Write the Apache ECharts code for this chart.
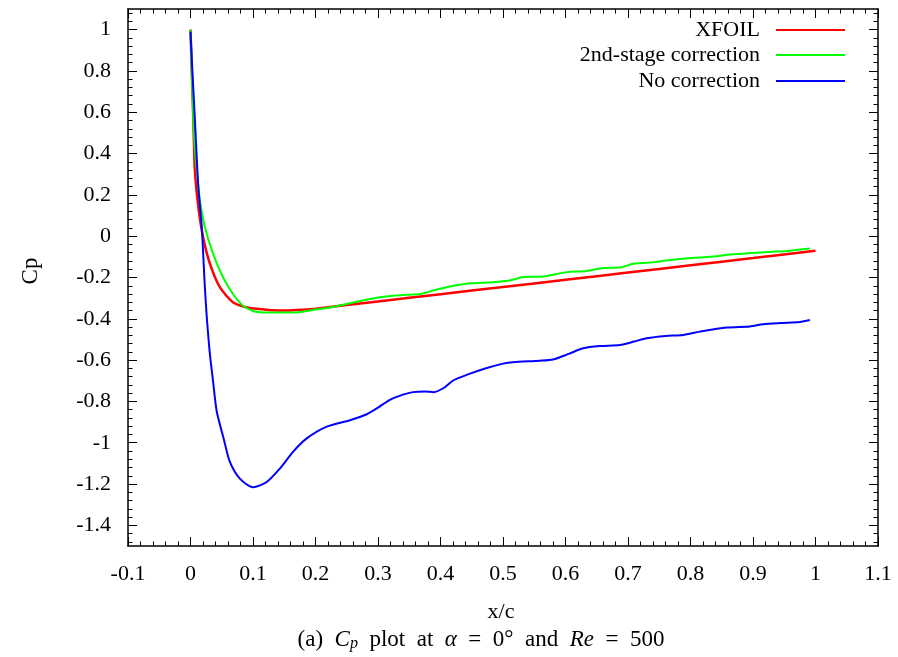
<!DOCTYPE html>
<html>
<head>
<meta charset="utf-8">
<script src="https://cdn.jsdelivr.net/npm/echarts@6/dist/echarts.min.js"></script>
<style>html,body{margin:0;padding:0;background:#fff;}#c{width:898px;height:657px;}</style>
</head>
<body>
<div id="c"></div>
<script>
// ---- data ----
var xfoilX = [0, 0.002, 0.0045, 0.007, 0.0125, 0.02, 0.031, 0.047, 0.068, 0.09, 0.111, 0.13, 0.154, 0.18, 0.2, 0.3, 0.4, 0.5, 0.6, 0.7, 0.8, 0.9, 1.0];
var xfoilY = [1.0, 0.8, 0.566, 0.322, 0.143, -0.003, -0.133, -0.247, -0.32, -0.345, -0.353, -0.358, -0.36, -0.356, -0.351, -0.316, -0.281, -0.246, -0.211, -0.176, -0.141, -0.106, -0.07];

var secondX = [0, 0.002, 0.0045, 0.007, 0.01, 0.015, 0.023, 0.036, 0.052, 0.068, 0.084, 0.1, 0.117, 0.14, 0.17, 0.2, 0.223, 0.255, 0.287, 0.32, 0.35, 0.367, 0.39, 0.415, 0.447, 0.484, 0.51, 0.532, 0.565, 0.602, 0.634, 0.66, 0.69, 0.708, 0.735, 0.76, 0.788, 0.83, 0.868, 0.922, 0.96, 0.991];
var secondY = [1.0, 0.8, 0.566, 0.42, 0.32, 0.176, 0.045, -0.084, -0.199, -0.28, -0.337, -0.362, -0.369, -0.37, -0.369, -0.355, -0.345, -0.325, -0.304, -0.29, -0.283, -0.28, -0.262, -0.244, -0.228, -0.223, -0.215, -0.198, -0.195, -0.174, -0.169, -0.154, -0.15, -0.133, -0.128, -0.118, -0.109, -0.1, -0.088, -0.077, -0.07, -0.06];

var noCorrX = [0, 0.003, 0.007, 0.0125, 0.018, 0.023, 0.026, 0.031, 0.036, 0.042, 0.053, 0.063, 0.079, 0.1, 0.122, 0.143, 0.164, 0.186, 0.218, 0.255, 0.282, 0.3, 0.319, 0.34, 0.356, 0.375, 0.389, 0.405, 0.42, 0.445, 0.474, 0.5, 0.516, 0.559, 0.58, 0.605, 0.628, 0.655, 0.687, 0.71, 0.73, 0.76, 0.788, 0.815, 0.858, 0.895, 0.916, 0.945, 0.975, 0.991];
var noCorrY = [0.99, 0.8, 0.566, 0.24, 0.045, -0.247, -0.39, -0.57, -0.70, -0.849, -0.979, -1.093, -1.174, -1.215, -1.19, -1.125, -1.044, -0.979, -0.922, -0.891, -0.862, -0.83, -0.792, -0.767, -0.755, -0.752, -0.755, -0.735, -0.699, -0.668, -0.638, -0.617, -0.61, -0.603, -0.597, -0.57, -0.543, -0.532, -0.527, -0.51, -0.494, -0.483, -0.478, -0.462, -0.442, -0.437, -0.426, -0.42, -0.415, -0.406];

var seriesNames = ['XFOIL', '2nd-stage correction', 'No correction'];
var yTickLabels = [-1.4, -1.2, -1, -0.8, -0.6, -0.4, -0.2, 0, 0.2, 0.4, 0.6, 0.8, 1];

// ---- helpers ----
function pairs(xs, ys) { return xs.map(function (x, i) { return [x, ys[i]]; }); }
var yMinor = [];
for (var k = -37; k <= 27; k++) {
  var v = Math.round(k * 4) / 100;
  if (Math.round(v * 100) % 20 !== 0) yMinor.push(v);
}
var FONT = 'Liberation Serif';
var axisLineStyle = { color: '#000', width: 1.5 };
var tickStyle = { color: '#000', width: 1 };

function xAx(pos, showLabel) {
  return {
    type: 'value', position: pos, min: -0.1, max: 1.1, interval: 0.1,
    axisLine: { show: true, onZero: false, lineStyle: axisLineStyle },
    axisTick: { show: true, inside: true, length: 9, lineStyle: tickStyle },
    minorTick: { show: true, splitNumber: 5, length: 4.5, lineStyle: tickStyle },
    splitLine: { show: false }, minorSplitLine: { show: false },
    axisLabel: { show: showLabel, margin: 17, color: '#000', fontFamily: FONT, fontSize: 22 }
  };
}
function yAx(pos, showLine, showLabel, tickVals, tickLen) {
  return {
    type: 'value', position: pos, min: -1.5, max: 1.1,
    axisLine: { show: showLine, onZero: false, lineStyle: axisLineStyle },
    axisTick: { show: true, inside: true, length: tickLen, customValues: tickVals, lineStyle: tickStyle },
    splitLine: { show: false },
    axisLabel: { show: showLabel, customValues: yTickLabels, margin: 17, color: '#000', fontFamily: FONT, fontSize: 22 }
  };
}

var colors = ['#ff0000', '#00ff00', '#0000ff'];
var widths = [2.5, 2, 2];
var datas = [pairs(xfoilX, xfoilY), pairs(secondX, secondY), pairs(noCorrX, noCorrY)];

var legendTops = [19, 44, 70];
var legends = seriesNames.map(function (n, i) {
  return {
    data: [{ name: n, icon: 'rect', itemStyle: { color: colors[i] } }],
    orient: 'vertical', right: 53, top: legendTops[i], padding: 0,
    align: 'right', itemWidth: 69, itemHeight: 2, selectedMode: false,
    textStyle: { fontFamily: FONT, fontSize: 22, color: '#000', padding: [0, 11, 0, 0] }
  };
});

var SP = '\u2002';
var chart = echarts.init(document.getElementById('c'), null, { renderer: 'canvas' });
chart.setOption({
  animation: false,
  backgroundColor: '#fff',
  grid: { left: 128, right: 20, top: 9, bottom: 111, containLabel: false },
  legend: legends,
  xAxis: [xAx('bottom', true), xAx('top', false)],
  yAxis: [
    yAx('left', true, true, yTickLabels, 9),
    yAx('right', true, false, yTickLabels, 9),
    yAx('left', false, false, yMinor, 4.5),
    yAx('right', false, false, yMinor, 4.5)
  ],
  series: seriesNames.map(function (n, i) {
    return {
      name: n, type: 'line', data: datas[i], xAxisIndex: 0, yAxisIndex: 0,
      showSymbol: false, smooth: 0.25, clip: true,
      lineStyle: { color: colors[i], width: widths[i] }, itemStyle: { color: colors[i] }, z: 2 + i
    };
  }),
  graphic: [
    { type: 'text', x: 31, y: 271, rotation: Math.PI / 2,
      style: { text: 'Cp', fontFamily: FONT, fontSize: 23, fill: '#000', align: 'center', verticalAlign: 'middle' } },
    { type: 'text', x: 501, y: 612,
      style: { text: 'x/c', fontFamily: FONT, fontSize: 22, fill: '#000', align: 'center', verticalAlign: 'middle' } },
    { type: 'text', x: 481, y: 640,
      style: {
        text: '(a)' + SP + '{i|C}{sub|p}' + SP + 'plot' + SP + 'at' + SP + '{i|α}' + SP + '=' + SP + '0°' + SP + 'and' + SP + '{i|Re}' + SP + '=' + SP + '500',
        fontFamily: FONT, fontSize: 23, fill: '#000', align: 'center', verticalAlign: 'middle',
        rich: {
          i: { fontFamily: FONT, fontSize: 23, fontStyle: 'italic', fill: '#000' },
          sub: { fontFamily: FONT, fontSize: 16, fontStyle: 'italic', fill: '#000', verticalAlign: 'bottom', padding: [7, 0, 0, 0] }
        }
      } }
  ]
});
</script>
</body>
</html>
